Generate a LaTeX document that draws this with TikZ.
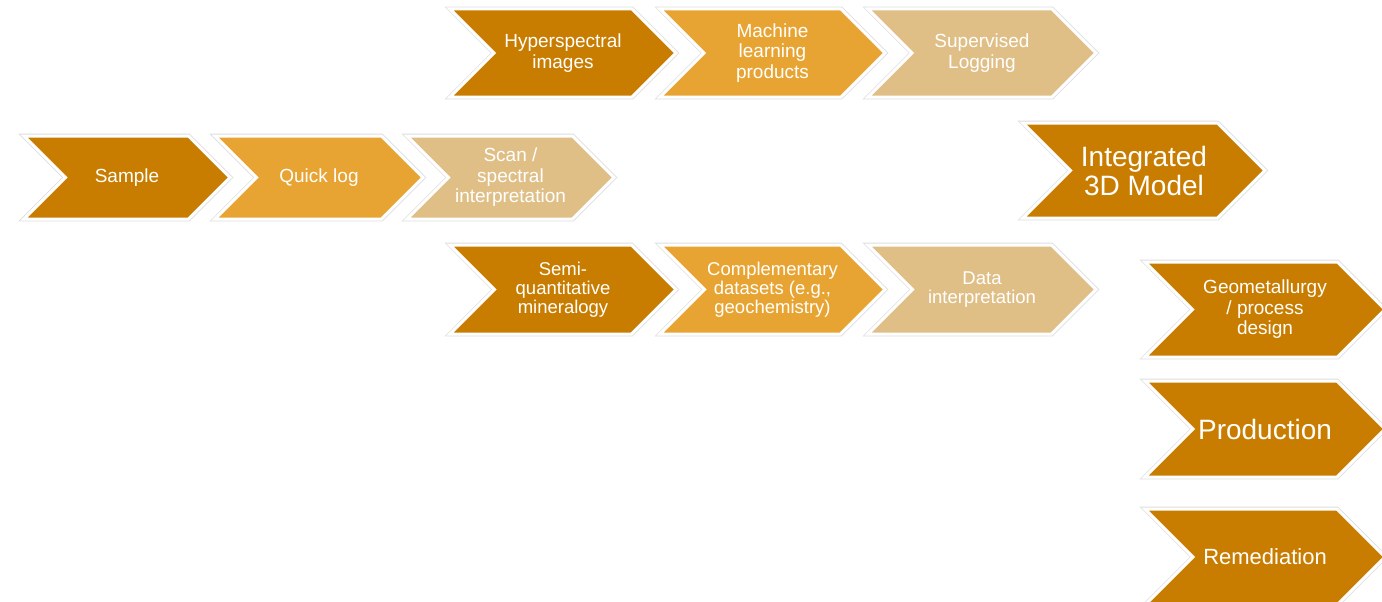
\documentclass[tikz,border=0pt]{standalone}
\usepackage{fontspec}
\setmainfont{Liberation Sans}
\usepackage{tikz}
\usetikzlibrary{positioning}
\usepackage{xcolor}

\definecolor{ochredark}{RGB}{200,125,0}
\definecolor{ochremid}{RGB}{232,164,50}
\definecolor{ochrelight}{RGB}{224,191,135}

\tikzset{
  chevedge/.style={draw=black!13, line width=4.6pt, line join=miter},
  chevfill/.style={fill=#1, draw=white, line width=3pt, line join=miter},
  lbl/.style={text=white, align=center, inner sep=0pt, font=\fontsize{19}{20.5}\selectfont},
  lblsmall/.style={lbl, font=\fontsize{18.5}{19}\selectfont},
  lblbig/.style={lbl, font=\fontsize{28}{29}\selectfont},
}

% chevron: name, left, right, top, bottom, colour
\newcommand{\chevron}[6]{%
  \pgfmathsetmacro{\chd}{(#5-#4)/2}%
  \pgfmathsetmacro{\chm}{(#5+#4)/2}%
  \path[chevedge] (#2,#4) -- ({#3-\chd},#4) -- (#3,\chm) -- ({#3-\chd},#5) -- (#2,#5) -- ({#2+\chd},\chm) -- cycle;
  \path[chevfill=#6] (#2,#4) -- ({#3-\chd},#4) -- (#3,\chm) -- ({#3-\chd},#5) -- (#2,#5) -- ({#2+\chd},\chm) -- cycle;
  \coordinate (#1c) at ({(#2+#3)/2},\chm);
}

\begin{document}
\begin{tikzpicture}[x=1pt, y=-1pt]
\useasboundingbox (0,0) rectangle (1382,602);
\clip (0,0) rectangle (1382,602);
% Riga in alto
\chevron{hyper}{450}{676}{9}{97}{ochredark}
\chevron{ml}{660}{885}{9}{97}{ochremid}
\chevron{superv}{868}{1096}{9}{97}{ochrelight}
% Riga centrale
\chevron{sample}{24}{230}{136}{219}{ochredark}
\chevron{quick}{215}{423}{136}{219}{ochremid}
\chevron{scan}{407}{614}{136}{219}{ochrelight}
% Riga in basso
\chevron{semi}{450}{676}{245}{334}{ochredark}
\chevron{compl}{660}{885}{245}{334}{ochremid}
\chevron{datai}{868}{1096}{245}{334}{ochrelight}
% Modello e colonna a destra
\chevron{model}{1023}{1265}{123}{218}{ochredark}
\chevron{geomet}{1145}{1385}{262}{357}{ochredark}
\chevron{prod}{1145}{1385}{381}{477}{ochredark}
\chevron{remed}{1145}{1385}{509}{605}{ochredark}
% Testi
\node[lbl] (hyper) at (hyperc) {Hyperspectral\\images};
\node[lbl] (ml) at (mlc) {Machine\\learning\\products};
\node[lbl] (superv) at (supervc) {Supervised\\Logging};
\node[lbl] (sample) at (samplec) {Sample};
\node[lbl] (quick) at (quickc) {Quick log};
\node[lbl] (scan) at (scanc) {Scan /\\spectral\\interpretation};
\node[lblsmall] (semi) at (semic) {Semi-\\quantitative\\mineralogy};
\node[lblsmall] (compl) at (complc) {Complementary\\datasets (e.g.,\\geochemistry)};
\node[lblsmall] (datai) at (dataic) {Data\\interpretation};
\node[lblbig] (model) at (modelc) {Integrated\\3D Model};
\node[lbl] (geomet) at (geometc) {Geometallurgy\\/ process\\design};
\node[lblbig] (prod) at (prodc) {Production};
\node[lbl, font=\fontsize{22}{24}\selectfont] (remed) at (remedc) {Remediation};
\end{tikzpicture}
\end{document}
